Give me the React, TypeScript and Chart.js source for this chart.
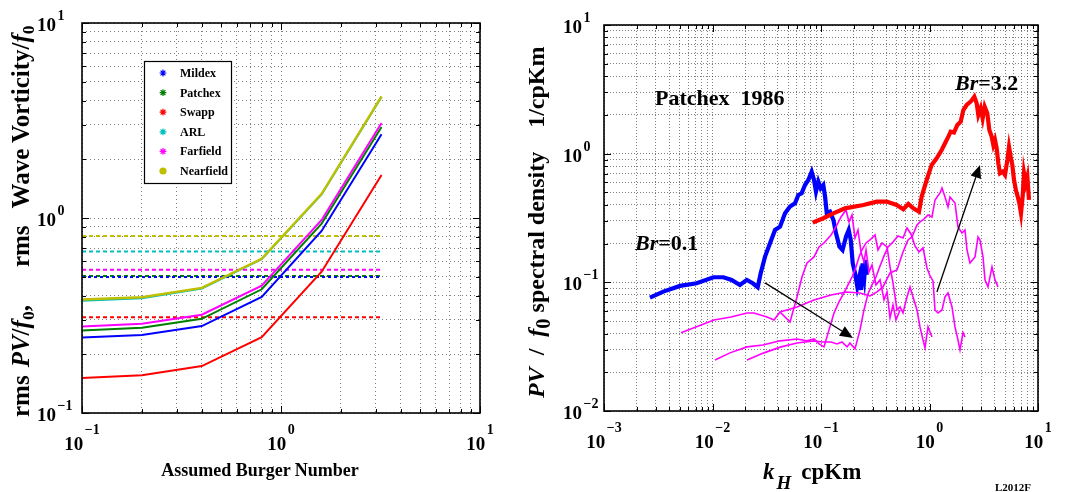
import React, { useEffect, useRef } from 'react';
import { Chart, registerables } from 'chart.js';

Chart.register(...registerables);

const SERIF = '"Liberation Serif", "Times New Roman", Times, serif';

// ---------------- Left panel data ----------------
const BURGER_NUMBERS = [0.1, 0.2, 0.4, 0.8, 1.6, 3.2];
const MILDEX_PV = [0.244, 0.251, 0.279, 0.394, 0.858, 2.69];
const PATCHEX_PV = [0.265, 0.274, 0.304, 0.431, 0.936, 2.93];
const SWAPP_PV = [0.151, 0.156, 0.174, 0.245, 0.53, 1.66];
const ARL_PV = [0.376, 0.388, 0.435, 0.615, 1.32, 4.18];
const FARFIELD_PV = [0.278, 0.287, 0.319, 0.45, 0.977, 3.07];
const NEARFIELD_PV = [0.382, 0.392, 0.438, 0.618, 1.33, 4.21];
// rms wave vorticity / f0 (dashed horizontal levels)
const VORTICITY_LEVELS = [0.498, 0.504, 0.31, 0.673, 0.543, 0.809];
const SERIES_NAMES = ['Mildex', 'Patchex', 'Swapp', 'ARL', 'Farfield', 'Nearfield'];
const SERIES_COLORS = ['#0000ff', '#008000', '#ff0000', '#00bfbf', '#ff00ff', '#bfbf00'];
const PV_SERIES = [MILDEX_PV, PATCHEX_PV, SWAPP_PV, ARL_PV, FARFIELD_PV, NEARFIELD_PV];

// ---------------- Right panel data: [k_H cpKm, PV/f0 spectral density] ----------------
const SPEC_BR_0_1 = [
  [0.00265, 0.0761], [0.00352, 0.0847], [0.00502, 0.0938], [0.00714, 0.0983], [0.0102, 0.1095],
  [0.0126, 0.1095], [0.015, 0.1044], [0.0179, 0.0954], [0.0207, 0.1044], [0.0235, 0.0983],
  [0.0261, 0.0916], [0.0278, 0.1176], [0.0305, 0.1585], [0.0339, 0.2012], [0.0377, 0.2553],
  [0.0419, 0.271], [0.0466, 0.344], [0.0518, 0.3877], [0.0576, 0.4115], [0.0618, 0.4776],
  [0.0663, 0.492], [0.0712, 0.571], [0.0764, 0.6247], [0.082, 0.725], [0.0862, 0.6247],
  [0.0899, 0.507], [0.0945, 0.6064], [0.0993, 0.5383], [0.105, 0.571], [0.109, 0.4636],
  [0.113, 0.344], [0.121, 0.3544], [0.13, 0.3054], [0.1375, 0.2405], [0.148, 0.1895],
  [0.158, 0.1785], [0.17, 0.2266], [0.18, 0.2553], [0.188, 0.2135], [0.196, 0.1406],
  [0.206, 0.1176], [0.216, 0.0928], [0.226, 0.1108], [0.234, 0.0873], [0.242, 0.1406],
  [0.251, 0.1108], [0.258, 0.1493], [0.264, 0.1142],
];
const SPEC_BR_3_2 = [
  [0.0838, 0.291], [0.105, 0.315], [0.13, 0.344], [0.1665, 0.376], [0.246, 0.399], [0.326, 0.424],
  [0.403, 0.424], [0.498, 0.399], [0.574, 0.37], [0.638, 0.407], [0.71, 0.376], [0.8, 0.354],
  [0.847, 0.464], [0.942, 0.625], [1.047, 0.817], [1.164, 0.92], [1.295, 1.068], [1.39, 1.204],
  [1.492, 1.356], [1.567, 1.483], [1.682, 1.46], [1.805, 1.671], [1.938, 1.774], [2.05, 2.185],
  [2.2, 2.39], [2.395, 2.536], [2.589, 2.774], [2.721, 2.462], [2.819, 1.999], [2.962, 2.252],
  [3.09, 1.883], [3.225, 2.32], [3.41, 2.06], [3.56, 1.528], [3.74, 1.356], [3.876, 1.168],
  [4.015, 1.277], [4.16, 1.101], [4.31, 0.841], [4.465, 0.704], [4.725, 0.725], [4.965, 0.683],
  [5.218, 0.893], [5.405, 1.131], [5.6, 0.948], [5.8, 0.817], [6.01, 0.625], [6.27, 0.516],
  [6.5, 0.464], [6.73, 0.412], [6.97, 0.344], [7.22, 0.464], [7.43, 0.704], [7.7, 0.589],
  [7.98, 0.663], [8.26, 0.437],
];
const SPEC_BR_0_2 = [
  [0.00513, 0.0405], [0.0103, 0.051], [0.0148, 0.0538], [0.0208, 0.0578], [0.0241, 0.0578],
  [0.0318, 0.0538], [0.0369, 0.051], [0.0419, 0.0589], [0.0518, 0.0492], [0.0601, 0.077],
  [0.0668, 0.11], [0.0743, 0.1415], [0.0862, 0.1575], [0.0959, 0.1884], [0.1066, 0.2023],
  [0.1237, 0.2335], [0.1375, 0.2694], [0.1529, 0.3222], [0.17, 0.3652], [0.1812, 0.2947],
  [0.1931, 0.334], [0.2057, 0.2213], [0.2193, 0.2553], [0.2337, 0.1723], [0.249, 0.144],
  [0.26, 0.1785], [0.277, 0.1204], [0.295, 0.1365], [0.321, 0.0954], [0.35, 0.1044],
  [0.381, 0.073], [0.406, 0.0842], [0.4325, 0.0529], [0.461, 0.0667], [0.491, 0.051], [0.535, 0.061],
];
const SPEC_BR_0_4 = [
  [0.01054, 0.0249], [0.0145, 0.0283], [0.0208, 0.0315], [0.0292, 0.0326], [0.0419, 0.0351],
  [0.0601, 0.0363], [0.0743, 0.0351], [0.0862, 0.0363], [0.0959, 0.0332], [0.1066, 0.0315],
  [0.1185, 0.0427], [0.1318, 0.0578], [0.1465, 0.0704], [0.163, 0.0827], [0.1812, 0.0989],
  [0.1931, 0.11], [0.2102, 0.1317], [0.224, 0.1575], [0.2386, 0.1785], [0.26, 0.2023],
  [0.283, 0.2135], [0.3146, 0.2335], [0.335, 0.1785], [0.365, 0.2023], [0.406, 0.1884],
  [0.4325, 0.1317], [0.461, 0.0989], [0.5016, 0.061], [0.535, 0.0644], [0.57, 0.0578],
  [0.62, 0.077], [0.661, 0.092], [0.705, 0.077], [0.767, 0.061], [0.817, 0.045],
  [0.871, 0.0357], [0.909, 0.0309], [0.969, 0.045], [1.054, 0.0376],
];
const SPEC_BR_0_8 = [
  [0.0208, 0.0249], [0.0298, 0.0283], [0.0428, 0.0315], [0.0601, 0.0338], [0.0862, 0.0351],
  [0.1021, 0.0344], [0.1237, 0.0344], [0.1405, 0.0332], [0.1562, 0.0344], [0.1737, 0.0315],
  [0.185, 0.0338], [0.2057, 0.0304], [0.2288, 0.0427], [0.249, 0.061], [0.271, 0.0813],
  [0.295, 0.0954], [0.321, 0.11], [0.35, 0.134], [0.381, 0.1604], [0.4145, 0.1884],
  [0.461, 0.206], [0.5126, 0.2293], [0.57, 0.2213], [0.62, 0.2646], [0.675, 0.2377],
  [0.735, 0.1918], [0.8, 0.1723], [0.871, 0.185], [0.948, 0.1294], [1.011, 0.1121],
  [1.077, 0.1025], [1.124, 0.061], [1.197, 0.0578], [1.304, 0.061], [1.39, 0.077],
  [1.481, 0.0827], [1.612, 0.0644], [1.718, 0.045], [1.83, 0.0357], [1.91, 0.0298],
  [2.036, 0.0406], [2.124, 0.0376],
];
const SPEC_BR_1_6 = [
  [0.0419, 0.0589], [0.0601, 0.0644], [0.0862, 0.073], [0.1237, 0.0798], [0.17, 0.0842],
  [0.2288, 0.0827], [0.283, 0.0784], [0.328, 0.0842], [0.3727, 0.0921], [0.4325, 0.1183],
  [0.5016, 0.1249], [0.57, 0.1723], [0.634, 0.2135], [0.69, 0.2253], [0.767, 0.2793],
  [0.817, 0.2947], [0.871, 0.3053], [0.969, 0.334], [1.054, 0.3222], [1.124, 0.4367],
  [1.25, 0.495], [1.304, 0.5414], [1.39, 0.4609], [1.481, 0.3854], [1.545, 0.4609],
  [1.718, 0.4139], [1.83, 0.2694], [1.993, 0.2419], [2.124, 0.2553], [2.216, 0.1785],
  [2.362, 0.1415], [2.627, 0.1575], [2.8, 0.2253], [2.92, 0.2135], [3.112, 0.1575],
  [3.247, 0.1044], [3.46, 0.0921], [3.767, 0.1317], [4.015, 0.1044], [4.277, 0.0921],
];
// arrows: [k, value] start -> end
const ARROW_DOWN = [[0.0305, 0.099], [0.197, 0.037]];
const ARROW_UP = [[1.17, 0.084], [2.92, 0.817]];

// axis decades
const LEFT_X_EXP = [-1, 1];
const LEFT_Y_EXP = [-1, 1];
const RIGHT_X_EXP = [-3, 1];
const RIGHT_Y_EXP = [-2, 1];

function decadeTicks(minExp: number, maxExp: number) {
  const out: { value: number; major: boolean }[] = [];
  for (let e = minExp; e < maxExp; e++) {
    for (let m = 1; m <= 9; m++) {
      out.push({ value: parseFloat((m * Math.pow(10, e)).toPrecision(6)), major: m === 1 });
    }
  }
  out.push({ value: Math.pow(10, maxExp), major: true });
  return out;
}

function logAxis(range: number[], dash: number[]) {
  return {
    type: 'logarithmic',
    min: Math.pow(10, range[0]),
    max: Math.pow(10, range[1]),
    afterBuildTicks: (s: any) => {
      s.ticks = decadeTicks(range[0], range[1]);
    },
    ticks: { display: false },
    grid: { color: 'rgba(0,0,0,0.5)', lineWidth: 1, drawTicks: false },
    border: { display: false, dash },
  };
}

function isDecade(v: number) {
  const l = Math.log10(v);
  return Math.abs(l - Math.round(l)) < 1e-6;
}

function drawPow(ctx: any, x: number, baseY: number, expY: number, e: number, centered: boolean) {
  const base = '10';
  const ex = e < 0 ? '\u2212' + Math.abs(e) : String(e);
  ctx.font = `bold 19px ${SERIF}`;
  const bw = ctx.measureText(base).width;
  ctx.font = `bold 14px ${SERIF}`;
  const ew = ctx.measureText(ex).width;
  const gap = 1.5;
  const x0 = centered ? x - (bw + gap + ew) / 2 : x;
  ctx.font = `bold 19px ${SERIF}`;
  ctx.fillText(base, x0, baseY);
  ctx.font = `bold 14px ${SERIF}`;
  ctx.fillText(ex, x0 + bw + gap, expY);
}

function drawLegend(ctx: any) {
  const bx = 144, by = 61, bw = 87, bh = 122;
  ctx.save();
  ctx.fillStyle = '#fff';
  ctx.fillRect(bx, by, bw, bh);
  ctx.strokeStyle = '#000';
  ctx.lineWidth = 1.2;
  ctx.strokeRect(bx + 0.5, by + 0.5, bw, bh);
  SERIES_NAMES.forEach((name, i) => {
    const cy = 73 + i * 19.6;
    const cx = 163;
    ctx.strokeStyle = SERIES_COLORS[i];
    ctx.fillStyle = SERIES_COLORS[i];
    if (i === SERIES_NAMES.length - 1) {
      ctx.beginPath();
      ctx.arc(cx, cy, 3.6, 0, Math.PI * 2);
      ctx.fill();
    } else {
      ctx.lineWidth = 1.2;
      ctx.beginPath();
      for (let k = 0; k < 4; k++) {
        const a = (k * Math.PI) / 4;
        ctx.moveTo(cx - 3.4 * Math.cos(a), cy - 3.4 * Math.sin(a));
        ctx.lineTo(cx + 3.4 * Math.cos(a), cy + 3.4 * Math.sin(a));
      }
      ctx.stroke();
    }
    ctx.fillStyle = '#000';
    ctx.font = `bold 12px ${SERIF}`;
    ctx.textBaseline = 'middle';
    ctx.textAlign = 'left';
    ctx.fillText(name, 180, cy + 1);
  });
  ctx.restore();
}

function drawArrow(ctx: any, xs: any, ys: any, pts: number[][]) {
  const x0 = xs.getPixelForValue(pts[0][0]);
  const y0 = ys.getPixelForValue(pts[0][1]);
  const x1 = xs.getPixelForValue(pts[1][0]);
  const y1 = ys.getPixelForValue(pts[1][1]);
  const ang = Math.atan2(y1 - y0, x1 - x0);
  const L = 13, W = 5.5;
  const bx = x1 - L * Math.cos(ang);
  const by = y1 - L * Math.sin(ang);
  ctx.save();
  ctx.strokeStyle = '#000';
  ctx.fillStyle = '#000';
  ctx.lineWidth = 1.3;
  ctx.beginPath();
  ctx.moveTo(x0, y0);
  ctx.lineTo(bx, by);
  ctx.stroke();
  ctx.beginPath();
  ctx.moveTo(x1, y1);
  ctx.lineTo(bx - W * Math.sin(ang), by + W * Math.cos(ang));
  ctx.lineTo(bx + W * Math.sin(ang), by - W * Math.cos(ang));
  ctx.closePath();
  ctx.fill();
  ctx.restore();
}

function decoPlugin(opts: { yLabelLeft: number; legend: boolean; arrows: boolean }) {
  return {
    id: 'deco',
    afterDatasetsDraw(chart: any) {
      if (opts.arrows) {
        drawArrow(chart.ctx, chart.scales.x, chart.scales.y, ARROW_DOWN);
        drawArrow(chart.ctx, chart.scales.x, chart.scales.y, ARROW_UP);
      }
    },
    afterDraw(chart: any) {
      const ctx = chart.ctx;
      const a = chart.chartArea;
      const xs = chart.scales.x;
      const ys = chart.scales.y;
      ctx.save();
      ctx.strokeStyle = '#000';
      ctx.lineWidth = 1;
      ctx.beginPath();
      for (const t of xs.ticks) {
        const p = Math.round(xs.getPixelForValue(t.value)) + 0.5;
        const len = isDecade(t.value) ? 7 : 4;
        ctx.moveTo(p, a.bottom);
        ctx.lineTo(p, a.bottom - len);
        ctx.moveTo(p, a.top);
        ctx.lineTo(p, a.top + len);
      }
      for (const t of ys.ticks) {
        const p = Math.round(ys.getPixelForValue(t.value)) + 0.5;
        const len = isDecade(t.value) ? 7 : 4;
        ctx.moveTo(a.left, p);
        ctx.lineTo(a.left + len, p);
        ctx.moveTo(a.right, p);
        ctx.lineTo(a.right - len, p);
      }
      ctx.stroke();
      ctx.lineWidth = 1.6;
      ctx.strokeRect(a.left, a.top, a.right - a.left, a.bottom - a.top);
      ctx.fillStyle = '#000';
      ctx.textAlign = 'left';
      ctx.textBaseline = 'alphabetic';
      for (const t of xs.ticks) {
        if (!isDecade(t.value)) continue;
        const e = Math.round(Math.log10(t.value));
        drawPow(ctx, xs.getPixelForValue(t.value), a.bottom + 37, a.bottom + 21, e, true);
      }
      for (const t of ys.ticks) {
        if (!isDecade(t.value)) continue;
        const e = Math.round(Math.log10(t.value));
        const p = ys.getPixelForValue(t.value);
        drawPow(ctx, opts.yLabelLeft, p + 8, p - 3, e, false);
      }
      ctx.restore();
      if (opts.legend) drawLegend(ctx);
    },
  };
}

function pairs(arr: number[][]) {
  return arr.map((p) => ({ x: p[0], y: p[1] }));
}

const Sub = ({ children, size = '0.75em', shift = '0.28em' }: any) => (
  <span style={{ fontSize: size, position: 'relative', top: shift }}>{children}</span>
);

export default function App() {
  const leftRef = useRef<HTMLCanvasElement>(null);
  const rightRef = useRef<HTMLCanvasElement>(null);

  useEffect(() => {
    const solidOrder = [3, 2, 4, 6, 1, 5];
    const dashOrder = [7, 8, 9, 10, 9, 10];
    const leftDatasets: any[] = [];
    PV_SERIES.forEach((series, i) => {
      leftDatasets.push({
        label: SERIES_NAMES[i],
        data: BURGER_NUMBERS.map((b, j) => ({ x: b, y: series[j] })),
        borderColor: SERIES_COLORS[i],
        borderWidth: i === 5 ? 2.4 : 2,
        pointRadius: 0,
        fill: false,
        tension: 0,
        order: solidOrder[i],
      });
      leftDatasets.push({
        label: SERIES_NAMES[i] + ' vorticity',
        data: [
          { x: BURGER_NUMBERS[0], y: VORTICITY_LEVELS[i] },
          { x: BURGER_NUMBERS[BURGER_NUMBERS.length - 1], y: VORTICITY_LEVELS[i] },
        ],
        borderColor: SERIES_COLORS[i],
        borderWidth: 2,
        borderDash: i === 0 ? [3, 3] : [4, 3],
        pointRadius: 0,
        fill: false,
        order: i === 0 ? 6.5 : dashOrder[i],
      });
    });

    const leftChart = new Chart(leftRef.current as any, {
      type: 'line',
      data: { datasets: leftDatasets },
      options: {
        responsive: false,
        animation: false,
        events: [],
        layout: { padding: { left: 82, right: 53, top: 23, bottom: 79 } },
        scales: { x: logAxis(LEFT_X_EXP, [1, 3]), y: logAxis(LEFT_Y_EXP, [1, 3]) } as any,
        plugins: { legend: { display: false }, tooltip: { enabled: false } },
      },
      plugins: [decoPlugin({ yLabelLeft: 37, legend: true, arrows: false })],
    } as any);

    const magenta = [SPEC_BR_0_2, SPEC_BR_0_4, SPEC_BR_0_8, SPEC_BR_1_6];
    const rightDatasets: any[] = [
      {
        label: 'Br=0.1',
        data: pairs(SPEC_BR_0_1),
        borderColor: '#0000ff',
        borderWidth: 4.2,
        pointRadius: 0,
        order: 3,
      },
      ...magenta.map((m, i) => ({
        label: 'Br' + i,
        data: pairs(m),
        borderColor: '#ff00ff',
        borderWidth: 1.6,
        pointRadius: 0,
        order: 2,
      })),
      {
        label: 'Br=3.2',
        data: pairs(SPEC_BR_3_2),
        borderColor: '#ff0000',
        borderWidth: 4.2,
        pointRadius: 0,
        order: 1,
      },
    ];

    const rightChart = new Chart(rightRef.current as any, {
      type: 'line',
      data: { datasets: rightDatasets },
      options: {
        responsive: false,
        animation: false,
        events: [],
        layout: { padding: { left: 71, right: 28, top: 25, bottom: 81 } },
        scales: { x: logAxis(RIGHT_X_EXP, [1, 2]), y: logAxis(RIGHT_Y_EXP, [1, 2]) } as any,
        plugins: { legend: { display: false }, tooltip: { enabled: false } },
      },
      plugins: [decoPlugin({ yLabelLeft: 30, legend: false, arrows: true })],
    } as any);

    return () => {
      leftChart.destroy();
      rightChart.destroy();
    };
  }, []);

  const bold = { fontFamily: SERIF, fontWeight: 'bold' as const, color: '#000', whiteSpace: 'pre' as const };

  return (
    <div style={{ position: 'absolute', left: 0, top: 0, width: 1066, height: 492, background: '#fff', overflow: 'hidden' }}>
      <canvas ref={leftRef} width={533} height={492} style={{ position: 'absolute', left: 0, top: 0, width: 533, height: 492 }} />
      <canvas ref={rightRef} width={533} height={492} style={{ position: 'absolute', left: 533, top: 0, width: 533, height: 492 }} />

      {/* left y title */}
      <div
        style={{
          ...bold,
          position: 'absolute',
          left: 7.6,
          top: 417,
          fontSize: 25,
          lineHeight: '25px',
          transformOrigin: '0 0',
          transform: 'rotate(-90deg)',
        }}
      >
        <span>rms</span>
        <span style={{ marginLeft: 8 }}>
          <i>PV</i>/<i>f</i>
          <Sub size="0.7em">0</Sub>,
        </span>
        <span style={{ marginLeft: 38 }}>rms</span>
        <span style={{ marginLeft: 17 }}>
          Wave Vorticity/<i>f</i>
          <Sub size="0.7em">0</Sub>
        </span>
      </div>

      {/* left x title */}
      <div style={{ ...bold, position: 'absolute', left: 60, width: 400, top: 461, fontSize: 18, lineHeight: '18px', textAlign: 'center' }}>
        Assumed Burger Number
      </div>

      {/* right y title */}
      <div
        style={{
          ...bold,
          position: 'absolute',
          left: 524,
          top: 398,
          fontSize: 24,
          lineHeight: '24px',
          transformOrigin: '0 0',
          transform: 'rotate(-90deg)',
        }}
      >
        <i>PV</i>
        {'  /  '}
        <i>f</i>
        <Sub size="0.85em" shift="0.3em">0</Sub>
        {' spectral density'}
        <span style={{ marginLeft: 24 }}>1/cpKm</span>
      </div>

      {/* right x title */}
      <div style={{ ...bold, position: 'absolute', left: 763, top: 459.7, fontSize: 23, lineHeight: '23px' }}>
        <i>k</i>
        <span style={{ fontSize: 19, position: 'relative', top: 10, fontStyle: 'italic', marginLeft: 2 }}>H</span>
        <span style={{ marginLeft: 10 }}>cpKm</span>
      </div>

      <div style={{ ...bold, position: 'absolute', left: 995, top: 481.8, fontSize: 11, lineHeight: '11px' }}>L2012F</div>

      {/* right panel annotations */}
      <div style={{ ...bold, position: 'absolute', left: 655, top: 86.6, fontSize: 22, lineHeight: '22px' }}>Patchex  1986</div>
      <div style={{ ...bold, position: 'absolute', left: 955, top: 71.6, fontSize: 22, lineHeight: '22px' }}>
        <i>Br</i>=3.2
      </div>
      <div style={{ ...bold, position: 'absolute', left: 635, top: 231.6, fontSize: 22, lineHeight: '22px' }}>
        <i>Br</i>=0.1
      </div>
    </div>
  );
}
